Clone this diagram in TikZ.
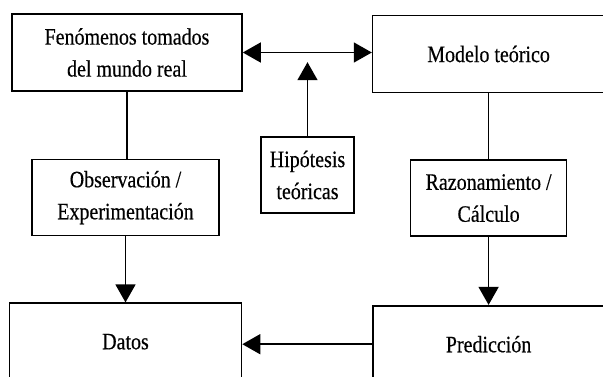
\documentclass[tikz,border=0pt]{standalone}
\usepackage{fontspec}
\setmainfont{Liberation Serif}[FakeStretch=0.85, FakeBold=0.4]
\usepackage{tikz}
\usetikzlibrary{arrows.meta, positioning, calc}

\begin{document}
\begin{tikzpicture}[
        x=1pt, y=1pt,
        box/.style={draw, rectangle, line width=1.6pt, minimum height=77pt, align=center,
            font=\fontsize{23.5}{32}\selectfont},
        link/.style={line width=1.5pt},
        flow/.style={line width=1.5pt, -{Triangle[length=18pt, width=20pt]}},
        both/.style={line width=1.5pt, {Triangle[length=18pt, width=20pt]}-{Triangle[length=18pt, width=20pt]}}
    ]
        \useasboundingbox (0,0) rectangle (603,-376);

        % Nodes
        \node (fen) [box, minimum width=230pt] at (127,-52.5) {Fenómenos tomados\\del mundo real};
        \node (mod) [box, minimum width=232pt, right=129pt of fen, yshift=-1.5pt] {Modelo teórico};

        \node (obs) [box, minimum width=187pt, minimum height=76pt, below=67pt of fen, xshift=-1.5pt] {Observación /\\Experimentación};
        \node (raz) [box, minimum width=156pt, minimum height=76pt, below=66pt of mod] {Razonamiento /\\Cálculo};
        \node (hip) [box, minimum width=93pt, minimum height=76pt] at (307.5,-175) {Hipótesis\\teóricas};

        \node (dat) [box, minimum width=232pt, below=66pt of obs] {Datos};
        \node (pred) [box, minimum width=231pt, below=68pt of raz] {Predicción};

        \coordinate (hiptip) at ($(hip.north)+(0,74)$);

        % Wires
        \draw[both] (fen.east) -- (fen.east -| mod.west);
        \draw[flow] (hip.north) -- (hiptip);

        \draw[link] (fen.south) -- (fen.south |- obs.north);
        \draw[flow] (obs.south) -- (obs.south |- dat.north);

        \draw[link] (mod.south) -- (raz.north);
        \draw[flow] (raz.south) -- (pred.north);

        \draw[flow] (pred.west) -- (pred.west -| dat.east);

    \end{tikzpicture}
\end{document}
